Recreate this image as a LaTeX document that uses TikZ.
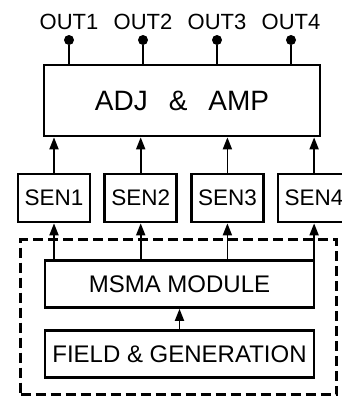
\documentclass[tikz,border=0pt]{standalone}
\usepackage{fontspec}
\setsansfont{Liberation Sans}
\usetikzlibrary{positioning,arrows.meta}

\begin{document}
\begin{tikzpicture}[
    x=1pt, y=-1pt,
    >={Triangle[length=12pt,width=9pt]},
    every node/.style={font=\sffamily},
    box/.style={draw, line width=2.7pt, inner sep=0pt, align=center},
    sensor/.style={box, minimum width=72pt, minimum height=48pt,
        font=\sffamily\fontsize{22.5}{26}\selectfont},
    stage/.style={box, minimum width=269pt, minimum height=47pt,
        font=\sffamily\fontsize{24}{28}\selectfont},
    group/.style={draw, dash pattern=on 10pt off 5pt, line width=2.7pt},
    pin/.style={circle, fill, inner sep=0pt, minimum size=10pt},
    wire/.style={line width=1.8pt},
    arr/.style={->, line width=1.8pt},
]

\useasboundingbox (0,0) rectangle (342,397);

% === Output stage ===
\node[box, minimum width=276pt, minimum height=71pt,
    font=\sffamily\fontsize{28}{30}\selectfont] (adj) at (182,100.5)
    {ADJ\hspace{21pt}\&\hspace{21pt}AMP};

% Output pins
\foreach \x [count=\i] in {69,143,217,291} {
    \node[pin] (pin\i) at (\x,40) {};
    \node[above=4pt of pin\i, inner sep=1pt,
        font=\sffamily\fontsize{22}{24}\selectfont] (out\i) {OUT\i};
    \draw[wire] (pin\i) -- (pin\i |- adj.north);
}

% === Sensors ===
\node[sensor] (sen1) at (54,198) {SEN1};
\node[sensor, right=12pt of sen1] (sen2) {SEN2};
\node[sensor, right=12pt of sen2] (sen3) {SEN3};
\node[sensor, right=12pt of sen3] (sen4) {SEN4};

% === MSMA part (dashed group) ===
\node[group, minimum width=316pt, minimum height=155pt] (module) at (178.5,317) {};
\node[stage] (msma) at (179.5,284) {MSMA MODULE};
\node[stage] (field) at (179.5,354) {FIELD \& GENERATION};

% Signal flow
\draw[arr] (field.north) -- (msma.south);
\foreach \i in {1,...,4} {
    \draw[arr] (sen\i.south |- msma.north) -- (sen\i.south);
    \draw[arr] (sen\i.north) -- (sen\i.north |- adj.south);
}

\end{tikzpicture}
\end{document}
